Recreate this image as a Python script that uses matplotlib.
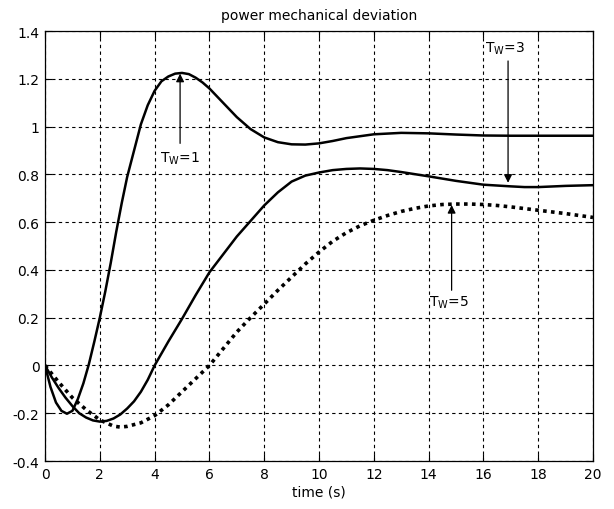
import matplotlib
matplotlib.use("Agg")
import matplotlib.pyplot as plt

# ---- data ----
t_tw1 = [0, 0.2, 0.4, 0.6, 0.8, 1.0, 1.2, 1.4, 1.6, 1.8, 2.0, 2.2, 2.4, 2.6, 2.8,
         3.0, 3.25, 3.5, 3.75, 4.0, 4.25, 4.5, 4.75, 5.0, 5.25, 5.5, 5.75, 6.0,
         6.5, 7.0, 7.5, 8.0, 8.5, 9.0, 9.5, 10, 10.5, 11, 12, 13, 14, 15, 16,
         17, 18, 19, 20]
p_tw1 = [0, -0.09, -0.155, -0.19, -0.202, -0.19, -0.14, -0.075, 0.005, 0.1, 0.2,
         0.31, 0.43, 0.56, 0.68, 0.79, 0.9, 1.01, 1.09, 1.15, 1.19, 1.21, 1.222,
         1.225, 1.22, 1.205, 1.185, 1.16, 1.10, 1.04, 0.99, 0.955, 0.935, 0.926,
         0.925, 0.93, 0.94, 0.952, 0.968, 0.974, 0.972, 0.967, 0.963, 0.962,
         0.962, 0.962, 0.962]

t_tw3 = [0, 0.25, 0.5, 0.75, 1.0, 1.25, 1.5, 1.75, 2.0, 2.25, 2.5, 2.75, 3.0,
         3.25, 3.5, 3.75, 4.0, 4.5, 5.0, 5.5, 6.0, 6.5, 7.0, 7.5, 8.0, 8.5, 9.0,
         9.5, 10, 10.5, 11, 11.5, 12, 12.5, 13, 13.5, 14, 15, 16, 17, 17.5, 18,
         19, 20]
p_tw3 = [0, -0.05, -0.095, -0.135, -0.17, -0.2, -0.218, -0.23, -0.235, -0.232,
         -0.222, -0.205, -0.18, -0.15, -0.11, -0.06, 0.0, 0.1, 0.195, 0.295,
         0.39, 0.465, 0.54, 0.605, 0.67, 0.725, 0.77, 0.795, 0.808, 0.818,
         0.823, 0.825, 0.823, 0.818, 0.81, 0.801, 0.792, 0.773, 0.757, 0.75,
         0.747, 0.747, 0.752, 0.755]

t_tw5 = [0, 0.5, 1.0, 1.5, 2.0, 2.5, 2.75, 3.0, 3.5, 4.0, 4.5, 5.0, 5.5, 6.0,
         6.5, 7.0, 7.5, 8.0, 8.5, 9.0, 9.5, 10, 10.5, 11, 11.5, 12, 12.5, 13,
         13.5, 14, 14.5, 15, 15.5, 16, 16.5, 17, 17.5, 18, 18.5, 19, 19.5, 20]
p_tw5 = [0, -0.07, -0.135, -0.185, -0.228, -0.254, -0.258, -0.255, -0.24, -0.21,
         -0.165, -0.11, -0.055, 0.0, 0.07, 0.14, 0.2, 0.257, 0.315, 0.37, 0.425,
         0.475, 0.52, 0.556, 0.585, 0.608, 0.628, 0.645, 0.658, 0.668, 0.674,
         0.676, 0.676, 0.674, 0.67, 0.664, 0.657, 0.65, 0.643, 0.636, 0.628,
         0.62]

x_ticks = [0, 2, 4, 6, 8, 10, 12, 14, 16, 18, 20]
y_ticks = [-0.4, -0.2, 0, 0.2, 0.4, 0.6, 0.8, 1, 1.2, 1.4]
y_tick_labels = ["-0.4", "-0.2", "0", "0.2", "0.4", "0.6", "0.8", "1", "1.2", "1.4"]

plt.rcParams['font.family'] = ['DejaVu Sans']

fig = plt.figure(figsize=(6.14, 5.10), dpi=100)
ax = fig.add_axes([0.0733, 0.0941, 0.8925, 0.8429])

ax.plot(t_tw1, p_tw1, color='black', lw=1.8, solid_joinstyle='round')
ax.plot(t_tw3, p_tw3, color='black', lw=1.8, solid_joinstyle='round')
ax.plot(t_tw5, p_tw5, color='black', lw=2.6, linestyle=(0, (1, 1.2)))

ax.set_xlim(0, 20)
ax.set_ylim(-0.4, 1.4)
ax.set_xticks(x_ticks)
ax.set_xticklabels([str(v) for v in x_ticks])
ax.set_yticks(y_ticks)
ax.set_yticklabels(y_tick_labels)
ax.grid(True, color='black', linestyle=(0, (3, 3)), linewidth=0.8)
ax.tick_params(direction='in', length=5, width=0.8, top=True, right=True,
               labelsize=10, pad=4)
for s in ax.spines.values():
    s.set_linewidth(0.9)

ax.set_title('power mechanical deviation', fontsize=10, pad=9)
ax.set_xlabel('time (s)', fontsize=10, labelpad=3)

arrowprops = dict(arrowstyle='-|>', color='black', lw=0.9,
                  mutation_scale=12, shrinkA=0, shrinkB=0)
ax.annotate('', xy=(4.93, 1.222), xytext=(4.93, 0.93), arrowprops=arrowprops)
ax.text(4.2, 0.87, r'T$_{\mathregular{W}}$=1', fontsize=10, ha='left', va='center')

ax.annotate('', xy=(16.9, 0.765), xytext=(16.9, 1.275), arrowprops=arrowprops)
ax.text(16.05, 1.33, r'T$_{\mathregular{W}}$=3', fontsize=10, ha='left', va='center')

ax.annotate('', xy=(14.84, 0.672), xytext=(14.84, 0.315), arrowprops=arrowprops)
ax.text(14.0, 0.265, r'T$_{\mathregular{W}}$=5', fontsize=10, ha='left', va='center')

fig.savefig('out.png', dpi=100)
